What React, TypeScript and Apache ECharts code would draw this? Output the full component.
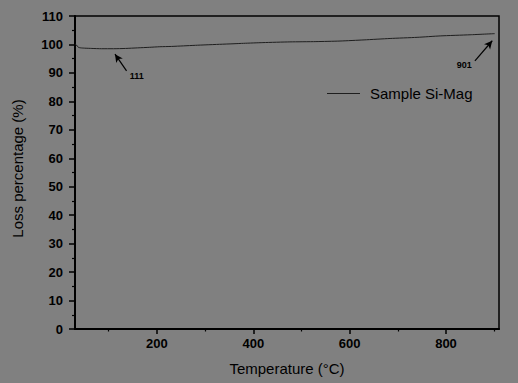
import React, { useEffect, useRef } from "react";
import * as echarts from "echarts";

// Temperature (°C) and loss percentage (%)
const temperatures = [30, 33, 37, 42, 50, 65, 85, 110, 135, 160, 185, 206, 230, 255, 280, 300, 330, 360, 380, 420, 476, 530, 580, 630, 684, 740, 788, 850, 901];
const lossValues = [100.2, 99.8, 99.0, 98.8, 98.7, 98.6, 98.5, 98.5, 98.6, 98.8, 99.0, 99.2, 99.3, 99.5, 99.7, 99.85, 100.05, 100.25, 100.4, 100.65, 100.9, 101.0, 101.2, 101.6, 102.1, 102.5, 103.0, 103.4, 103.8];

const seriesName = "Sample Si-Mag";
const xTickLabels = [200, 400, 600, 800];
const yTickLabels = [0, 10, 20, 30, 40, 50, 60, 70, 80, 90, 100, 110];

// Annotation arrows (data coordinates): tail -> head, and label
const arrowTails = [[137, 90.7], [860, 94.2]];
const arrowHeads = [[113, 96.6], [896, 101.3]];
const annotationLabels = ["111", "901"];
const annotationLabelPos = [[158, 88.8], [838, 92.9]];

export default function App() {
  const ref = useRef<HTMLDivElement>(null);

  useEffect(() => {
    if (!ref.current) return;
    const chart = echarts.init(ref.current, null, { renderer: "svg" });
    const font = "'Liberation Sans', Arial, Helvetica, sans-serif";
    const data = temperatures.map((t, i) => [t, lossValues[i]]);

    chart.setOption({
      animation: false,
      backgroundColor: "#808080",
      textStyle: { fontFamily: font },
      grid: {
        left: 75,
        right: 19,
        top: 16,
        bottom: 54,
        containLabel: false,
        show: true,
        borderColor: "#000",
        borderWidth: 1.5,
        backgroundColor: "transparent",
      },
      legend: {
        data: [{ name: seriesName, icon: "rect" }],
        left: 327,
        top: 86,
        padding: 0,
        itemWidth: 33,
        itemHeight: 1,
        itemStyle: { color: "#1e1e1e" },
        textStyle: { fontSize: 15, color: "#000", fontFamily: font, padding: [0, 0, 0, 5] },
      },
      xAxis: {
        type: "value",
        min: 30,
        max: 910,
        splitNumber: 5,
        name: "Temperature (°C)",
        nameLocation: "middle",
        nameGap: 32,
        nameTextStyle: { fontSize: 15, color: "#000", fontFamily: font },
        axisLine: { show: true, lineStyle: { color: "#000", width: 2 } },
        axisTick: {
          show: true,
          inside: false,
          length: 5,
          customValues: xTickLabels,
          lineStyle: { color: "#000", width: 1.5 },
        },
        minorTick: { show: true, splitNumber: 2, length: 2.5, lineStyle: { color: "#000", width: 1.2 } },
        axisLabel: {
          customValues: xTickLabels,
          margin: 8,
          fontSize: 13,
          fontWeight: "bold",
          color: "#000",
          fontFamily: font,
        },
        splitLine: { show: false },
        minorSplitLine: { show: false },
      },
      yAxis: {
        type: "value",
        min: 0,
        max: 110,
        interval: 10,
        name: "Loss percentage (%)",
        nameLocation: "middle",
        nameGap: 50,
        nameTextStyle: { fontSize: 15, color: "#000", fontFamily: font, padding: [0, 0, 0, 8] },
        axisLine: { show: true, lineStyle: { color: "#000", width: 2 } },
        axisTick: { show: true, inside: false, length: 6, lineStyle: { color: "#000", width: 1.5 } },
        minorTick: { show: true, splitNumber: 2, length: 3, lineStyle: { color: "#000", width: 1.2 } },
        axisLabel: {
          margin: 12,
          fontSize: 13,
          fontWeight: "bold",
          color: "#000",
          fontFamily: font,
          formatter: (v: number) => (yTickLabels.includes(v) ? String(v) : ""),
        },
        splitLine: { show: false },
      },
      series: [
        {
          name: seriesName,
          type: "line",
          data,
          symbol: "none",
          smooth: 0.2,
          lineStyle: { color: "#1e1e1e", width: 1 },
          itemStyle: { color: "#1e1e1e" },
          markLine: {
            silent: true,
            symbol: ["none", "arrow"],
            symbolSize: [6, 8],
            lineStyle: { color: "#000", width: 1.2, type: "solid" },
            label: { show: false },
            data: arrowTails.map((tail, i) => [
              { coord: tail },
              { coord: arrowHeads[i] },
            ]),
          },
          markPoint: {
            silent: true,
            symbol: "rect",
            symbolSize: 1,
            itemStyle: { color: "transparent" },
            label: {
              show: true,
              position: "inside",
              fontSize: 9,
              fontWeight: "bold",
              color: "#000",
              fontFamily: font,
            },
            data: annotationLabels.map((txt, i) => ({
              coord: annotationLabelPos[i],
              label: { formatter: txt },
            })),
          },
        },
      ],
    });

    return () => chart.dispose();
  }, []);

  return (
    <div
      ref={ref}
      style={{ position: "fixed", left: 0, top: 0, width: 518, height: 383, background: "#808080" }}
    />
  );
}
